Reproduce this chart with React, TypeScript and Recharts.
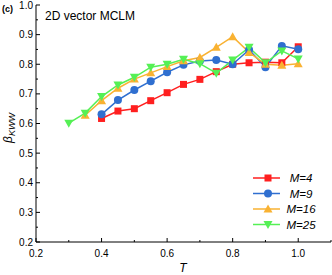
import { Legend, Line, LineChart, XAxis, YAxis } from "recharts";

const tM4 = [0.4, 0.45, 0.5, 0.55, 0.6, 0.65, 0.7, 0.75, 0.8, 0.85, 0.9, 0.95, 1.0];
const bM4 = [0.617, 0.642, 0.65, 0.677, 0.704, 0.732, 0.749, 0.775, 0.8, 0.805, 0.807, 0.805, 0.859];

const tM9 = [0.4, 0.45, 0.5, 0.55, 0.6, 0.65, 0.7, 0.75, 0.8, 0.85, 0.9, 0.95, 1.0];
const bM9 = [0.631, 0.679, 0.713, 0.743, 0.773, 0.798, 0.811, 0.814, 0.8, 0.849, 0.79, 0.862, 0.851];

const tM16 = [0.35, 0.4, 0.45, 0.5, 0.55, 0.6, 0.65, 0.7, 0.75, 0.8, 0.85, 0.9, 0.95, 1.0];
const bM16 = [0.628, 0.677, 0.719, 0.75, 0.771, 0.792, 0.812, 0.823, 0.857, 0.893, 0.84, 0.8, 0.797, 0.802];

const tM25 = [0.3, 0.35, 0.4, 0.45, 0.5, 0.55, 0.6, 0.65, 0.7, 0.75, 0.8, 0.85, 0.9, 0.95, 1.0];
const bM25 = [0.601, 0.635, 0.691, 0.73, 0.756, 0.79, 0.8, 0.817, 0.802, 0.77, 0.814, 0.857, 0.805, 0.845, 0.818];

const xTicks = [0.2, 0.3, 0.4, 0.5, 0.6, 0.7, 0.8, 0.9, 1.0, 1.1];
const xLabels = ["0.2", "0.4", "0.6", "0.8", "1.0"];
const yTicks = [0.2, 0.25, 0.3, 0.35, 0.4, 0.45, 0.5, 0.55, 0.6, 0.65, 0.7, 0.75, 0.8, 0.85, 0.9, 0.95, 1.0];
const yLabels = ["0.2", "0.3", "0.4", "0.5", "0.6", "0.7", "0.8", "0.9", "1.0"];

const FONT = "'Liberation Sans', Arial, sans-serif";

const pts = (t: number[], b: number[]) => t.map((x, i) => ({ t: x, b: b[i] }));

const series = [
  { name: "M=4", data: pts(tM4, bM4), color: "#ff1f1f", shape: "square" },
  { name: "M=9", data: pts(tM9, bM9), color: "#2f6fd0", shape: "circle" },
  { name: "M=16", data: pts(tM16, bM16), color: "#f9b232", shape: "up" },
  { name: "M=25", data: pts(tM25, bM25), color: "#55f055", shape: "down" },
];

function Marker({ cx, cy, shape, color }: { cx: number; cy: number; shape: string; color: string }) {
  if (shape === "square") return <rect x={cx - 3.5} y={cy - 3.5} width={7} height={7} fill={color} />;
  if (shape === "circle") return <circle cx={cx} cy={cy} r={4} fill={color} />;
  if (shape === "up")
    return <polygon points={`${cx},${cy - 4.5} ${cx - 4.5},${cy + 3.5} ${cx + 4.5},${cy + 3.5}`} fill={color} />;
  return <polygon points={`${cx},${cy + 4.5} ${cx - 4.5},${cy - 3.5} ${cx + 4.5},${cy - 3.5}`} fill={color} />;
}

const isMajor = (v: number, labels: string[]) => labels.includes(v.toFixed(1)) && Math.abs(v * 10 - Math.round(v * 10)) < 1e-6;

function BottomTick(props: any) {
  const { x, y, payload } = props;
  const major = isMajor(payload.value, xLabels);
  return (
    <g>
      <line x1={x} x2={x} y1={y} y2={y - (major ? 4 : 2)} stroke="#000" />
      {major && (
        <text x={x} y={y + 15} textAnchor="middle" fontSize={10} fontFamily={FONT} fill="#000">
          {payload.value.toFixed(1)}
        </text>
      )}
    </g>
  );
}

function TopTick(props: any) {
  const { x, y, payload } = props;
  const major = isMajor(payload.value, xLabels);
  return <line x1={x} x2={x} y1={y} y2={y + (major ? 4 : 2)} stroke="#000" />;
}

function LeftTick(props: any) {
  const { x, y, payload } = props;
  const major = isMajor(payload.value, yLabels);
  return (
    <g>
      <line x1={x} x2={x + (major ? 4 : 2)} y1={y} y2={y} stroke="#000" />
      {major && (
        <text x={x - 3} y={y + 3.5} textAnchor="end" fontSize={10} fontFamily={FONT} fill="#000">
          {payload.value.toFixed(1)}
        </text>
      )}
    </g>
  );
}

function RightTick(props: any) {
  const { x, y, payload } = props;
  const major = isMajor(payload.value, yLabels);
  return <line x1={x} x2={x - (major ? 4 : 2)} y1={y} y2={y} stroke="#000" />;
}

function LegendBox() {
  return (
    <svg width={80} height={64}>
      {series.map((s, i) => {
        const cy = 8 + i * 15.5;
        return (
          <g key={s.name}>
            <line x1={3} x2={30} y1={cy} y2={cy} stroke={s.color} strokeWidth={1.5} />
            <Marker cx={18} cy={cy} shape={s.shape} color={s.color} />
            <text x={51} y={cy + 4} textAnchor="middle" fontSize={11.5} fontStyle="italic" fontFamily={FONT} fill="#000">
              {s.name}
            </text>
          </g>
        );
      })}
    </svg>
  );
}

export default function App() {
  return (
    <div style={{ position: "absolute", left: 0, top: 0, width: 332, height: 275, background: "#fff" }}>
      <LineChart width={332} height={275} margin={{ top: 5, right: 1, bottom: 0, left: 0 }}>
        <XAxis
          xAxisId="b"
          dataKey="t"
          type="number"
          domain={[0.2, 1.1]}
          ticks={xTicks}
          interval={0}
          tickSize={0}
          tickMargin={0}
          height={33}
          stroke="#000"
          tick={<BottomTick />}
          allowDuplicatedCategory={false}
          label={{
            content: () => (
              <text x={183} y={272} textAnchor="middle" fontSize={12} fontStyle="italic" fontFamily={FONT} fill="#000">
                T
              </text>
            ),
          }}
        />
        <XAxis
          xAxisId="top"
          dataKey="t"
          type="number"
          orientation="top"
          domain={[0.2, 1.1]}
          ticks={xTicks}
          interval={0}
          tickSize={0}
          tickMargin={0}
          height={0}
          stroke="#000"
          tick={<TopTick />}
        />
        <YAxis
          yAxisId="l"
          type="number"
          domain={[0.2, 1.0]}
          ticks={yTicks}
          interval={0}
          tickSize={0}
          tickMargin={0}
          width={36}
          stroke="#000"
          tick={<LeftTick />}
          label={{
            content: () => (
              <text
                x={12}
                y={128}
                transform="rotate(-90 12 128)"
                textAnchor="middle"
                fontSize={12}
                fontStyle="italic"
                fontFamily={FONT}
                fill="#000"
              >
                β
                <tspan fontSize={9} dy={3}>
                  KWW
                </tspan>
              </text>
            ),
          }}
        />
        <YAxis
          yAxisId="r"
          type="number"
          orientation="right"
          domain={[0.2, 1.0]}
          ticks={yTicks}
          interval={0}
          tickSize={0}
          tickMargin={0}
          width={0}
          stroke="#000"
          tick={<RightTick />}
        />
        <Legend
          layout="horizontal"
          verticalAlign="middle"
          content={() => <LegendBox />}
          wrapperStyle={{ left: 250, top: 170, width: 80, height: 64 }}
        />
        {series.map((s) => (
          <Line
            key={s.name}
            xAxisId="b"
            yAxisId="l"
            data={s.data}
            dataKey="b"
            name={s.name}
            stroke={s.color}
            strokeWidth={1.5}
            isAnimationActive={false}
            dot={(p: any) => <Marker key={`${s.name}-${p.index}`} cx={p.cx} cy={p.cy} shape={s.shape} color={s.color} />}
            activeDot={false}
          />
        ))}
      </LineChart>
      <div style={{ position: "absolute", left: 2, top: 4, fontFamily: FONT, fontSize: 9, fontWeight: "bold" }}>(c)</div>
      <div style={{ position: "absolute", left: 45, top: 9, fontFamily: FONT, fontSize: 12 }}>2D vector MCLM</div>
    </div>
  );
}
